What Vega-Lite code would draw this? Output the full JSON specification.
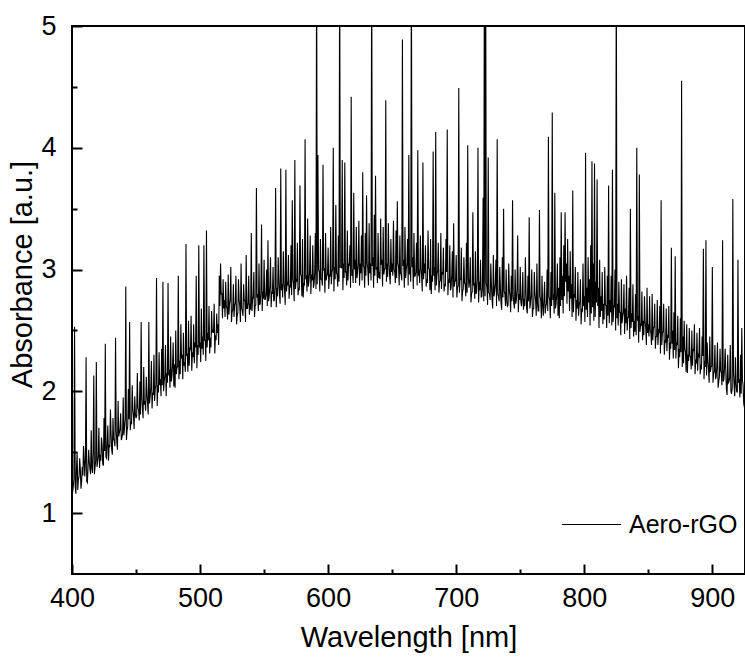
{
"$schema": "https://vega.github.io/schema/vega-lite/v6.json",
"width": 673, "height": 548,
"autosize": {"type": "none"},
"padding": {"left": 72, "top": 26, "right": 0, "bottom": 86},
"background": "white",
"config": {"view": {"stroke": "black", "strokeWidth": 2}, "font": "Liberation Sans"},
"data": {"values": [
{"w":400,"a":1.48},{"w":401,"a":1.22},{"w":402,"a":2.53},{"w":403,"a":1.16},{"w":404,"a":1.50},{"w":405,"a":1.28},{"w":406,"a":1.45},{"w":407,"a":1.20},{"w":408,"a":1.38},{"w":409,"a":1.55},
{"w":410,"a":1.30},{"w":411,"a":2.28},{"w":412,"a":1.25},{"w":413,"a":1.52},{"w":414,"a":1.36},{"w":415,"a":1.68},{"w":416,"a":1.33},{"w":417,"a":2.13},{"w":418,"a":1.38},{"w":419,"a":2.24},
{"w":420,"a":1.42},{"w":421,"a":1.70},{"w":422,"a":1.48},{"w":423,"a":1.62},{"w":424,"a":1.40},{"w":425,"a":1.78},{"w":426,"a":2.39},{"w":427,"a":1.45},{"w":428,"a":1.72},{"w":429,"a":1.55},
{"w":430,"a":1.85},{"w":431,"a":1.52},{"w":432,"a":1.78},{"w":433,"a":1.60},{"w":434,"a":2.44},{"w":435,"a":1.58},{"w":436,"a":1.92},{"w":437,"a":1.66},{"w":438,"a":1.82},{"w":439,"a":1.62},
{"w":440,"a":1.95},{"w":441,"a":1.70},{"w":442,"a":2.86},{"w":443,"a":1.68},{"w":444,"a":2.02},{"w":445,"a":2.57},{"w":446,"a":1.75},{"w":447,"a":2.05},{"w":448,"a":1.80},{"w":449,"a":1.96},
{"w":450,"a":1.78},{"w":451,"a":2.15},{"w":452,"a":1.85},{"w":453,"a":2.08},{"w":454,"a":2.57},{"w":455,"a":1.86},{"w":456,"a":2.20},{"w":457,"a":1.92},{"w":458,"a":2.12},{"w":459,"a":1.90},
{"w":460,"a":2.57},{"w":461,"a":1.95},{"w":462,"a":2.25},{"w":463,"a":1.98},{"w":464,"a":2.30},{"w":465,"a":2.02},{"w":466,"a":2.93},{"w":467,"a":2.05},{"w":468,"a":2.32},{"w":469,"a":2.10},
{"w":470,"a":2.35},{"w":471,"a":2.90},{"w":472,"a":2.08},{"w":473,"a":2.38},{"w":474,"a":2.15},{"w":475,"a":2.89},{"w":476,"a":2.18},{"w":477,"a":2.45},{"w":478,"a":2.12},{"w":479,"a":2.40},
{"w":480,"a":2.22},{"w":481,"a":2.50},{"w":482,"a":2.20},{"w":483,"a":2.95},{"w":484,"a":2.25},{"w":485,"a":2.55},{"w":486,"a":2.30},{"w":487,"a":2.48},{"w":488,"a":2.24},{"w":489,"a":3.21},
{"w":490,"a":2.30},{"w":491,"a":2.58},{"w":492,"a":2.35},{"w":493,"a":2.62},{"w":494,"a":2.32},{"w":495,"a":2.55},{"w":496,"a":2.40},{"w":497,"a":2.95},{"w":498,"a":2.38},{"w":499,"a":3.20},
{"w":500,"a":2.40},{"w":501,"a":2.68},{"w":502,"a":2.45},{"w":503,"a":3.20},{"w":504,"a":2.42},{"w":505,"a":3.32},{"w":506,"a":2.48},{"w":507,"a":2.70},{"w":508,"a":2.44},{"w":509,"a":2.66},
{"w":510,"a":2.50},{"w":511,"a":2.72},{"w":512,"a":2.46},{"w":513,"a":2.64},{"w":514,"a":2.55},{"w":515,"a":2.95},{"w":516,"a":3.05},{"w":517,"a":2.80},{"w":518,"a":2.92},{"w":519,"a":2.75},
{"w":520,"a":2.90},{"w":521,"a":2.68},{"w":522,"a":2.96},{"w":523,"a":2.72},{"w":524,"a":3.02},{"w":525,"a":2.65},{"w":526,"a":2.88},{"w":527,"a":2.70},{"w":528,"a":2.95},{"w":529,"a":2.62},
{"w":530,"a":2.92},{"w":531,"a":2.70},{"w":532,"a":3.05},{"w":533,"a":2.66},{"w":534,"a":2.88},{"w":535,"a":2.74},{"w":536,"a":3.12},{"w":537,"a":2.68},{"w":538,"a":2.95},{"w":539,"a":2.72},
{"w":540,"a":3.30},{"w":541,"a":2.75},{"w":542,"a":2.98},{"w":543,"a":2.70},{"w":544,"a":3.67},{"w":545,"a":2.80},{"w":546,"a":3.05},{"w":547,"a":2.72},{"w":548,"a":3.37},{"w":549,"a":2.82},
{"w":550,"a":3.08},{"w":551,"a":2.76},{"w":552,"a":3.00},{"w":553,"a":3.24},{"w":554,"a":2.78},{"w":555,"a":3.10},{"w":556,"a":2.82},{"w":557,"a":3.02},{"w":558,"a":2.75},{"w":559,"a":3.67},
{"w":560,"a":2.85},{"w":561,"a":3.10},{"w":562,"a":2.80},{"w":563,"a":3.83},{"w":564,"a":2.88},{"w":565,"a":3.15},{"w":566,"a":2.82},{"w":567,"a":3.82},{"w":568,"a":2.90},{"w":569,"a":3.12},
{"w":570,"a":2.86},{"w":571,"a":3.20},{"w":572,"a":3.57},{"w":573,"a":2.88},{"w":574,"a":3.90},{"w":575,"a":2.92},{"w":576,"a":3.22},{"w":577,"a":2.85},{"w":578,"a":3.69},{"w":579,"a":2.95},
{"w":580,"a":3.25},{"w":581,"a":2.88},{"w":582,"a":4.07},{"w":583,"a":2.95},{"w":584,"a":3.42},{"w":585,"a":2.90},{"w":586,"a":3.28},{"w":587,"a":2.96},{"w":588,"a":3.20},{"w":589,"a":2.88},
{"w":590,"a":3.30},{"w":591,"a":5.6},{"w":592,"a":3.94},{"w":593,"a":2.98},{"w":594,"a":3.25},{"w":595,"a":2.92},{"w":596,"a":3.86},{"w":597,"a":3.00},{"w":598,"a":3.30},{"w":599,"a":2.95},
{"w":600,"a":3.18},{"w":601,"a":2.95},{"w":602,"a":3.35},{"w":603,"a":2.98},{"w":604,"a":4.00},{"w":605,"a":3.02},{"w":606,"a":3.53},{"w":607,"a":2.96},{"w":608,"a":3.28},{"w":609,"a":5.6},
{"w":610,"a":3.02},{"w":611,"a":3.90},{"w":612,"a":3.05},{"w":613,"a":3.88},{"w":614,"a":2.98},{"w":615,"a":3.32},{"w":616,"a":3.05},{"w":617,"a":3.20},{"w":618,"a":4.42},{"w":619,"a":3.00},
{"w":620,"a":3.63},{"w":621,"a":3.08},{"w":622,"a":3.35},{"w":623,"a":2.98},{"w":624,"a":3.40},{"w":625,"a":3.05},{"w":626,"a":3.28},{"w":627,"a":3.80},{"w":628,"a":3.02},{"w":629,"a":3.30},
{"w":630,"a":3.61},{"w":631,"a":3.00},{"w":632,"a":3.38},{"w":633,"a":3.05},{"w":634,"a":5.6},{"w":635,"a":3.10},{"w":636,"a":3.45},{"w":637,"a":3.77},{"w":638,"a":3.02},{"w":639,"a":3.30},
{"w":640,"a":2.98},{"w":641,"a":3.42},{"w":642,"a":3.08},{"w":643,"a":3.35},{"w":644,"a":3.00},{"w":645,"a":4.39},{"w":646,"a":3.05},{"w":647,"a":3.38},{"w":648,"a":2.95},{"w":649,"a":3.25},
{"w":650,"a":3.05},{"w":651,"a":3.40},{"w":652,"a":2.98},{"w":653,"a":3.32},{"w":654,"a":3.56},{"w":655,"a":3.02},{"w":656,"a":3.28},{"w":657,"a":2.96},{"w":658,"a":4.89},{"w":659,"a":3.08},
{"w":660,"a":3.35},{"w":661,"a":3.00},{"w":662,"a":3.25},{"w":663,"a":3.94},{"w":664,"a":3.02},{"w":665,"a":5.6},{"w":666,"a":3.10},{"w":667,"a":3.30},{"w":668,"a":2.95},{"w":669,"a":3.22},
{"w":670,"a":3.98},{"w":671,"a":3.00},{"w":672,"a":3.28},{"w":673,"a":2.95},{"w":674,"a":3.88},{"w":675,"a":3.05},{"w":676,"a":3.20},{"w":677,"a":2.92},{"w":678,"a":3.32},{"w":679,"a":3.00},
{"w":680,"a":3.25},{"w":681,"a":2.95},{"w":682,"a":3.97},{"w":683,"a":3.02},{"w":684,"a":4.13},{"w":685,"a":2.96},{"w":686,"a":3.22},{"w":687,"a":2.90},{"w":688,"a":3.30},{"w":689,"a":2.98},
{"w":690,"a":3.18},{"w":691,"a":2.88},{"w":692,"a":3.25},{"w":693,"a":4.15},{"w":694,"a":2.92},{"w":695,"a":3.20},{"w":696,"a":2.85},{"w":697,"a":3.15},{"w":698,"a":3.38},{"w":699,"a":2.90},
{"w":700,"a":3.12},{"w":701,"a":2.85},{"w":702,"a":4.49},{"w":703,"a":2.92},{"w":704,"a":3.18},{"w":705,"a":2.82},{"w":706,"a":3.10},{"w":707,"a":2.88},{"w":708,"a":3.22},{"w":709,"a":4.02},
{"w":710,"a":2.85},{"w":711,"a":3.10},{"w":712,"a":2.80},{"w":713,"a":3.47},{"w":714,"a":2.88},{"w":715,"a":3.15},{"w":716,"a":2.82},{"w":717,"a":4.00},{"w":718,"a":2.90},{"w":719,"a":3.08},
{"w":720,"a":2.78},{"w":721,"a":3.59},{"w":722,"a":5.6},{"w":723,"a":5.6},{"w":724,"a":2.85},{"w":725,"a":3.92},{"w":726,"a":2.80},{"w":727,"a":3.05},{"w":728,"a":2.75},{"w":729,"a":3.12},
{"w":730,"a":2.82},{"w":731,"a":3.08},{"w":732,"a":4.07},{"w":733,"a":2.78},{"w":734,"a":3.02},{"w":735,"a":2.72},{"w":736,"a":3.10},{"w":737,"a":3.50},{"w":738,"a":2.80},{"w":739,"a":3.00},
{"w":740,"a":2.70},{"w":741,"a":3.05},{"w":742,"a":2.78},{"w":743,"a":2.95},{"w":744,"a":3.57},{"w":745,"a":2.72},{"w":746,"a":3.00},{"w":747,"a":2.75},{"w":748,"a":3.28},{"w":749,"a":2.80},
{"w":750,"a":3.02},{"w":751,"a":2.70},{"w":752,"a":2.98},{"w":753,"a":2.76},{"w":754,"a":3.10},{"w":755,"a":2.68},{"w":756,"a":2.95},{"w":757,"a":3.43},{"w":758,"a":2.72},{"w":759,"a":3.00},
{"w":760,"a":2.68},{"w":761,"a":2.98},{"w":762,"a":2.74},{"w":763,"a":3.05},{"w":764,"a":2.66},{"w":765,"a":3.49},{"w":766,"a":2.75},{"w":767,"a":2.95},{"w":768,"a":2.62},{"w":769,"a":2.90},
{"w":770,"a":2.70},{"w":771,"a":3.00},{"w":772,"a":4.09},{"w":773,"a":2.75},{"w":774,"a":2.98},{"w":775,"a":4.29},{"w":776,"a":2.80},{"w":777,"a":3.63},{"w":778,"a":2.72},{"w":779,"a":3.05},
{"w":780,"a":2.85},{"w":781,"a":3.10},{"w":782,"a":3.47},{"w":783,"a":2.95},{"w":784,"a":3.20},{"w":785,"a":3.47},{"w":786,"a":3.05},{"w":787,"a":3.25},{"w":788,"a":2.95},{"w":789,"a":3.15},
{"w":790,"a":2.88},{"w":791,"a":3.65},{"w":792,"a":2.80},{"w":793,"a":3.02},{"w":794,"a":2.75},{"w":795,"a":2.98},{"w":796,"a":2.70},{"w":797,"a":2.92},{"w":798,"a":2.68},{"w":799,"a":3.05},
{"w":800,"a":2.78},{"w":801,"a":3.96},{"w":802,"a":2.85},{"w":803,"a":3.10},{"w":804,"a":2.92},{"w":805,"a":3.20},{"w":806,"a":3.89},{"w":807,"a":3.05},{"w":808,"a":3.87},{"w":809,"a":2.90},
{"w":810,"a":3.74},{"w":811,"a":2.85},{"w":812,"a":3.08},{"w":813,"a":2.78},{"w":814,"a":2.98},{"w":815,"a":2.72},{"w":816,"a":3.02},{"w":817,"a":2.70},{"w":818,"a":2.95},{"w":819,"a":3.69},
{"w":820,"a":2.75},{"w":821,"a":2.95},{"w":822,"a":3.82},{"w":823,"a":2.70},{"w":824,"a":3.00},{"w":825,"a":5.6},{"w":826,"a":2.72},{"w":827,"a":2.90},{"w":828,"a":2.65},{"w":829,"a":2.92},
{"w":830,"a":2.62},{"w":831,"a":2.88},{"w":832,"a":2.68},{"w":833,"a":2.95},{"w":834,"a":2.60},{"w":835,"a":2.85},{"w":836,"a":3.50},{"w":837,"a":2.64},{"w":838,"a":2.88},{"w":839,"a":2.58},
{"w":840,"a":2.80},{"w":841,"a":4.00},{"w":842,"a":2.62},{"w":843,"a":3.78},{"w":844,"a":2.55},{"w":845,"a":2.82},{"w":846,"a":2.58},{"w":847,"a":2.78},{"w":848,"a":2.52},{"w":849,"a":2.85},
{"w":850,"a":2.55},{"w":851,"a":2.78},{"w":852,"a":2.48},{"w":853,"a":2.80},{"w":854,"a":2.52},{"w":855,"a":2.72},{"w":856,"a":2.45},{"w":857,"a":2.75},{"w":858,"a":2.50},{"w":859,"a":2.70},
{"w":860,"a":3.57},{"w":861,"a":2.48},{"w":862,"a":2.72},{"w":863,"a":2.42},{"w":864,"a":2.68},{"w":865,"a":2.45},{"w":866,"a":2.70},{"w":867,"a":2.40},{"w":868,"a":3.18},{"w":869,"a":2.50},
{"w":870,"a":2.65},{"w":871,"a":3.11},{"w":872,"a":2.40},{"w":873,"a":2.62},{"w":874,"a":2.35},{"w":875,"a":2.60},{"w":876,"a":4.55},{"w":877,"a":2.45},{"w":878,"a":2.58},{"w":879,"a":2.32},
{"w":880,"a":2.55},{"w":881,"a":2.30},{"w":882,"a":2.52},{"w":883,"a":2.28},{"w":884,"a":2.50},{"w":885,"a":2.35},{"w":886,"a":2.55},{"w":887,"a":2.25},{"w":888,"a":2.48},{"w":889,"a":2.30},
{"w":890,"a":2.52},{"w":891,"a":2.22},{"w":892,"a":2.45},{"w":893,"a":3.17},{"w":894,"a":2.25},{"w":895,"a":3.24},{"w":896,"a":2.40},{"w":897,"a":2.18},{"w":898,"a":2.45},{"w":899,"a":2.20},
{"w":900,"a":3.02},{"w":901,"a":2.15},{"w":902,"a":2.38},{"w":903,"a":2.12},{"w":904,"a":2.40},{"w":905,"a":2.08},{"w":906,"a":2.35},{"w":907,"a":2.15},{"w":908,"a":3.24},{"w":909,"a":2.10},
{"w":910,"a":2.35},{"w":911,"a":2.02},{"w":912,"a":2.30},{"w":913,"a":2.08},{"w":914,"a":2.38},{"w":915,"a":1.98},{"w":916,"a":3.58},{"w":917,"a":2.05},{"w":918,"a":2.28},{"w":919,"a":2.00},
{"w":920,"a":3.08},{"w":921,"a":2.10},{"w":922,"a":2.30},{"w":923,"a":2.52},{"w":924,"a":2.05},{"w":925,"a":1.87},
{"w":400.5,"a":1.17},{"w":401.5,"a":1.28},{"w":402.5,"a":1.23},{"w":403.5,"a":1.36},{"w":404.5,"a":1.19},{"w":405.5,"a":1.30},{"w":406.5,"a":1.36},{"w":407.5,"a":1.26},{"w":408.5,"a":1.31},{"w":409.5,"a":1.44},
{"w":410.5,"a":1.43},{"w":411.5,"a":1.26},{"w":412.5,"a":1.37},{"w":413.5,"a":1.42},{"w":414.5,"a":1.32},{"w":415.5,"a":1.37},{"w":416.5,"a":1.50},{"w":417.5,"a":1.32},{"w":418.5,"a":1.43},{"w":419.5,"a":1.38},
{"w":420.5,"a":1.47},{"w":421.5,"a":1.37},{"w":422.5,"a":1.43},{"w":423.5,"a":1.56},{"w":424.5,"a":1.39},{"w":425.5,"a":1.51},{"w":426.5,"a":1.46},{"w":427.5,"a":1.59},{"w":428.5,"a":1.43},{"w":429.5,"a":1.54},
{"w":430.5,"a":1.65},{"w":431.5,"a":1.48},{"w":432.5,"a":1.60},{"w":433.5,"a":1.55},{"w":434.5,"a":1.68},{"w":435.5,"a":1.52},{"w":436.5,"a":1.63},{"w":437.5,"a":1.69},{"w":438.5,"a":1.60},{"w":439.5,"a":1.65},
{"w":440.5,"a":1.64},{"w":441.5,"a":1.77},{"w":442.5,"a":1.60},{"w":443.5,"a":1.71},{"w":444.5,"a":1.77},{"w":445.5,"a":1.68},{"w":446.5,"a":1.73},{"w":447.5,"a":1.86},{"w":448.5,"a":1.69},{"w":449.5,"a":1.81},
{"w":450.5,"a":1.80},{"w":451.5,"a":1.86},{"w":452.5,"a":1.76},{"w":453.5,"a":1.81},{"w":454.5,"a":1.94},{"w":455.5,"a":1.78},{"w":456.5,"a":1.89},{"w":457.5,"a":1.84},{"w":458.5,"a":1.97},{"w":459.5,"a":1.81},
{"w":460.5,"a":1.90},{"w":461.5,"a":2.03},{"w":462.5,"a":1.86},{"w":463.5,"a":1.97},{"w":464.5,"a":1.92},{"w":465.5,"a":2.05},{"w":466.5,"a":1.88},{"w":467.5,"a":1.99},{"w":468.5,"a":2.05},{"w":469.5,"a":1.96},
{"w":470.5,"a":2.05},{"w":471.5,"a":2.00},{"w":472.5,"a":2.13},{"w":473.5,"a":1.96},{"w":474.5,"a":2.07},{"w":475.5,"a":2.13},{"w":476.5,"a":2.03},{"w":477.5,"a":2.08},{"w":478.5,"a":2.21},{"w":479.5,"a":2.04},
{"w":480.5,"a":2.03},{"w":481.5,"a":2.14},{"w":482.5,"a":2.20},{"w":483.5,"a":2.10},{"w":484.5,"a":2.14},{"w":485.5,"a":2.27},{"w":486.5,"a":2.10},{"w":487.5,"a":2.21},{"w":488.5,"a":2.16},{"w":489.5,"a":2.29},
{"w":490.5,"a":2.16},{"w":491.5,"a":2.21},{"w":492.5,"a":2.34},{"w":493.5,"a":2.17},{"w":494.5,"a":2.28},{"w":495.5,"a":2.23},{"w":496.5,"a":2.36},{"w":497.5,"a":2.19},{"w":498.5,"a":2.30},{"w":499.5,"a":2.36},
{"w":500.5,"a":2.24},{"w":501.5,"a":2.35},{"w":502.5,"a":2.30},{"w":503.5,"a":2.42},{"w":504.5,"a":2.25},{"w":505.5,"a":2.36},{"w":506.5,"a":2.42},{"w":507.5,"a":2.31},{"w":508.5,"a":2.36},{"w":509.5,"a":2.49},
{"w":510.5,"a":2.48},{"w":511.5,"a":2.31},{"w":512.5,"a":2.42},{"w":513.5,"a":2.48},{"w":514.5,"a":2.38},{"w":515.5,"a":2.70},{"w":516.5,"a":2.80},{"w":517.5,"a":2.60},{"w":518.5,"a":2.68},{"w":519.5,"a":2.61},
{"w":520.5,"a":2.70},{"w":521.5,"a":2.59},{"w":522.5,"a":2.63},{"w":523.5,"a":2.75},{"w":524.5,"a":2.57},{"w":525.5,"a":2.67},{"w":526.5,"a":2.61},{"w":527.5,"a":2.73},{"w":528.5,"a":2.55},{"w":529.5,"a":2.65},
{"w":530.5,"a":2.75},{"w":531.5,"a":2.57},{"w":532.5,"a":2.68},{"w":533.5,"a":2.62},{"w":534.5,"a":2.75},{"w":535.5,"a":2.57},{"w":536.5,"a":2.68},{"w":537.5,"a":2.73},{"w":538.5,"a":2.63},{"w":539.5,"a":2.67},
{"w":540.5,"a":2.66},{"w":541.5,"a":2.78},{"w":542.5,"a":2.61},{"w":543.5,"a":2.71},{"w":544.5,"a":2.77},{"w":545.5,"a":2.66},{"w":546.5,"a":2.71},{"w":547.5,"a":2.83},{"w":548.5,"a":2.66},{"w":549.5,"a":2.76},
{"w":550.5,"a":2.75},{"w":551.5,"a":2.80},{"w":552.5,"a":2.70},{"w":553.5,"a":2.74},{"w":554.5,"a":2.87},{"w":555.5,"a":2.69},{"w":556.5,"a":2.80},{"w":557.5,"a":2.74},{"w":558.5,"a":2.87},{"w":559.5,"a":2.69},
{"w":560.5,"a":2.78},{"w":561.5,"a":2.90},{"w":562.5,"a":2.72},{"w":563.5,"a":2.83},{"w":564.5,"a":2.77},{"w":565.5,"a":2.89},{"w":566.5,"a":2.71},{"w":567.5,"a":2.82},{"w":568.5,"a":2.87},{"w":569.5,"a":2.76},
{"w":570.5,"a":2.85},{"w":571.5,"a":2.79},{"w":572.5,"a":2.92},{"w":573.5,"a":2.74},{"w":574.5,"a":2.84},{"w":575.5,"a":2.90},{"w":576.5,"a":2.79},{"w":577.5,"a":2.83},{"w":578.5,"a":2.96},{"w":579.5,"a":2.78},
{"w":580.5,"a":2.77},{"w":581.5,"a":2.87},{"w":582.5,"a":2.92},{"w":583.5,"a":2.82},{"w":584.5,"a":2.86},{"w":585.5,"a":2.98},{"w":586.5,"a":2.80},{"w":587.5,"a":2.91},{"w":588.5,"a":2.85},{"w":589.5,"a":2.97},
{"w":590.5,"a":2.84},{"w":591.5,"a":2.88},{"w":592.5,"a":3.00},{"w":593.5,"a":2.82},{"w":594.5,"a":2.92},{"w":595.5,"a":2.87},{"w":596.5,"a":2.99},{"w":597.5,"a":2.81},{"w":598.5,"a":2.91},{"w":599.5,"a":2.96},
{"w":600.5,"a":2.84},{"w":601.5,"a":2.94},{"w":602.5,"a":2.88},{"w":603.5,"a":3.00},{"w":604.5,"a":2.82},{"w":605.5,"a":2.92},{"w":606.5,"a":2.97},{"w":607.5,"a":2.86},{"w":608.5,"a":2.90},{"w":609.5,"a":3.02},
{"w":610.5,"a":3.01},{"w":611.5,"a":2.83},{"w":612.5,"a":2.93},{"w":613.5,"a":2.98},{"w":614.5,"a":2.87},{"w":615.5,"a":2.91},{"w":616.5,"a":3.03},{"w":617.5,"a":2.85},{"w":618.5,"a":2.95},{"w":619.5,"a":2.89},
{"w":620.5,"a":3.00},{"w":621.5,"a":2.89},{"w":622.5,"a":2.93},{"w":623.5,"a":3.05},{"w":624.5,"a":2.87},{"w":625.5,"a":2.97},{"w":626.5,"a":2.91},{"w":627.5,"a":3.03},{"w":628.5,"a":2.85},{"w":629.5,"a":2.95},
{"w":630.5,"a":3.05},{"w":631.5,"a":2.87},{"w":632.5,"a":2.97},{"w":633.5,"a":2.91},{"w":634.5,"a":3.03},{"w":635.5,"a":2.85},{"w":636.5,"a":2.95},{"w":637.5,"a":3.00},{"w":638.5,"a":2.89},{"w":639.5,"a":2.93},
{"w":640.5,"a":2.92},{"w":641.5,"a":3.04},{"w":642.5,"a":2.86},{"w":643.5,"a":2.96},{"w":644.5,"a":3.01},{"w":645.5,"a":2.90},{"w":646.5,"a":2.94},{"w":647.5,"a":3.06},{"w":648.5,"a":2.88},{"w":649.5,"a":2.98},
{"w":650.5,"a":2.95},{"w":651.5,"a":3.00},{"w":652.5,"a":2.89},{"w":653.5,"a":2.93},{"w":654.5,"a":3.05},{"w":655.5,"a":2.87},{"w":656.5,"a":2.97},{"w":657.5,"a":2.91},{"w":658.5,"a":3.03},{"w":659.5,"a":2.85},
{"w":660.5,"a":2.93},{"w":661.5,"a":3.05},{"w":662.5,"a":2.87},{"w":663.5,"a":2.96},{"w":664.5,"a":2.90},{"w":665.5,"a":3.02},{"w":666.5,"a":2.84},{"w":667.5,"a":2.94},{"w":668.5,"a":2.98},{"w":669.5,"a":2.87},
{"w":670.5,"a":2.95},{"w":671.5,"a":2.89},{"w":672.5,"a":3.01},{"w":673.5,"a":2.82},{"w":674.5,"a":2.92},{"w":675.5,"a":2.97},{"w":676.5,"a":2.86},{"w":677.5,"a":2.89},{"w":678.5,"a":3.01},{"w":679.5,"a":2.83},
{"w":680.5,"a":2.80},{"w":681.5,"a":2.90},{"w":682.5,"a":2.95},{"w":683.5,"a":2.83},{"w":684.5,"a":2.87},{"w":685.5,"a":2.99},{"w":686.5,"a":2.81},{"w":687.5,"a":2.91},{"w":688.5,"a":2.84},{"w":689.5,"a":2.96},
{"w":690.5,"a":2.82},{"w":691.5,"a":2.86},{"w":692.5,"a":2.98},{"w":693.5,"a":2.79},{"w":694.5,"a":2.89},{"w":695.5,"a":2.83},{"w":696.5,"a":2.95},{"w":697.5,"a":2.77},{"w":698.5,"a":2.86},{"w":699.5,"a":2.91},
{"w":700.5,"a":2.77},{"w":701.5,"a":2.87},{"w":702.5,"a":2.81},{"w":703.5,"a":2.92},{"w":704.5,"a":2.74},{"w":705.5,"a":2.84},{"w":706.5,"a":2.89},{"w":707.5,"a":2.78},{"w":708.5,"a":2.81},{"w":709.5,"a":2.93},
{"w":710.5,"a":2.91},{"w":711.5,"a":2.73},{"w":712.5,"a":2.82},{"w":713.5,"a":2.87},{"w":714.5,"a":2.76},{"w":715.5,"a":2.80},{"w":716.5,"a":2.92},{"w":717.5,"a":2.73},{"w":718.5,"a":2.83},{"w":719.5,"a":2.77},
{"w":720.5,"a":2.85},{"w":721.5,"a":2.74},{"w":722.5,"a":2.78},{"w":723.5,"a":2.89},{"w":724.5,"a":2.71},{"w":725.5,"a":2.81},{"w":726.5,"a":2.75},{"w":727.5,"a":2.87},{"w":728.5,"a":2.68},{"w":729.5,"a":2.78},
{"w":730.5,"a":2.88},{"w":731.5,"a":2.70},{"w":732.5,"a":2.80},{"w":733.5,"a":2.74},{"w":734.5,"a":2.85},{"w":735.5,"a":2.67},{"w":736.5,"a":2.77},{"w":737.5,"a":2.82},{"w":738.5,"a":2.70},{"w":739.5,"a":2.74},
{"w":740.5,"a":2.71},{"w":741.5,"a":2.83},{"w":742.5,"a":2.65},{"w":743.5,"a":2.74},{"w":744.5,"a":2.79},{"w":745.5,"a":2.68},{"w":746.5,"a":2.72},{"w":747.5,"a":2.84},{"w":748.5,"a":2.65},{"w":749.5,"a":2.75},
{"w":750.5,"a":2.73},{"w":751.5,"a":2.78},{"w":752.5,"a":2.67},{"w":753.5,"a":2.70},{"w":754.5,"a":2.82},{"w":755.5,"a":2.64},{"w":756.5,"a":2.74},{"w":757.5,"a":2.68},{"w":758.5,"a":2.79},{"w":759.5,"a":2.61},
{"w":760.5,"a":2.68},{"w":761.5,"a":2.80},{"w":762.5,"a":2.62},{"w":763.5,"a":2.72},{"w":764.5,"a":2.66},{"w":765.5,"a":2.78},{"w":766.5,"a":2.60},{"w":767.5,"a":2.70},{"w":768.5,"a":2.75},{"w":769.5,"a":2.64},
{"w":770.5,"a":2.72},{"w":771.5,"a":2.66},{"w":772.5,"a":2.78},{"w":773.5,"a":2.60},{"w":774.5,"a":2.70},{"w":775.5,"a":2.75},{"w":776.5,"a":2.64},{"w":777.5,"a":2.68},{"w":778.5,"a":2.80},{"w":779.5,"a":2.62},
{"w":780.5,"a":2.60},{"w":781.5,"a":2.70},{"w":782.5,"a":2.75},{"w":783.5,"a":2.64},{"w":784.5,"a":2.78},{"w":785.5,"a":2.90},{"w":786.5,"a":2.72},{"w":787.5,"a":2.82},{"w":788.5,"a":2.66},{"w":789.5,"a":2.76},
{"w":790.5,"a":2.61},{"w":791.5,"a":2.65},{"w":792.5,"a":2.77},{"w":793.5,"a":2.58},{"w":794.5,"a":2.68},{"w":795.5,"a":2.62},{"w":796.5,"a":2.74},{"w":797.5,"a":2.55},{"w":798.5,"a":2.65},{"w":799.5,"a":2.70},
{"w":800.5,"a":2.57},{"w":801.5,"a":2.67},{"w":802.5,"a":2.61},{"w":803.5,"a":2.73},{"w":804.5,"a":2.54},{"w":805.5,"a":2.64},{"w":806.5,"a":2.69},{"w":807.5,"a":2.58},{"w":808.5,"a":2.61},{"w":809.5,"a":2.73},
{"w":810.5,"a":2.70},{"w":811.5,"a":2.52},{"w":812.5,"a":2.61},{"w":813.5,"a":2.66},{"w":814.5,"a":2.55},{"w":815.5,"a":2.59},{"w":816.5,"a":2.71},{"w":817.5,"a":2.52},{"w":818.5,"a":2.62},{"w":819.5,"a":2.56},
{"w":820.5,"a":2.65},{"w":821.5,"a":2.54},{"w":822.5,"a":2.57},{"w":823.5,"a":2.69},{"w":824.5,"a":2.50},{"w":825.5,"a":2.60},{"w":826.5,"a":2.54},{"w":827.5,"a":2.65},{"w":828.5,"a":2.46},{"w":829.5,"a":2.56},
{"w":830.5,"a":2.65},{"w":831.5,"a":2.47},{"w":832.5,"a":2.56},{"w":833.5,"a":2.50},{"w":834.5,"a":2.61},{"w":835.5,"a":2.43},{"w":836.5,"a":2.52},{"w":837.5,"a":2.57},{"w":838.5,"a":2.45},{"w":839.5,"a":2.49},
{"w":840.5,"a":2.46},{"w":841.5,"a":2.58},{"w":842.5,"a":2.40},{"w":843.5,"a":2.49},{"w":844.5,"a":2.54},{"w":845.5,"a":2.42},{"w":846.5,"a":2.46},{"w":847.5,"a":2.57},{"w":848.5,"a":2.38},{"w":849.5,"a":2.48},
{"w":850.5,"a":2.45},{"w":851.5,"a":2.50},{"w":852.5,"a":2.38},{"w":853.5,"a":2.42},{"w":854.5,"a":2.53},{"w":855.5,"a":2.35},{"w":856.5,"a":2.45},{"w":857.5,"a":2.38},{"w":858.5,"a":2.49},{"w":859.5,"a":2.31},
{"w":860.5,"a":2.38},{"w":861.5,"a":2.49},{"w":862.5,"a":2.30},{"w":863.5,"a":2.40},{"w":864.5,"a":2.33},{"w":865.5,"a":2.44},{"w":866.5,"a":2.26},{"w":867.5,"a":2.35},{"w":868.5,"a":2.39},{"w":869.5,"a":2.27},
{"w":870.5,"a":2.34},{"w":871.5,"a":2.27},{"w":872.5,"a":2.38},{"w":873.5,"a":2.19},{"w":874.5,"a":2.28},{"w":875.5,"a":2.32},{"w":876.5,"a":2.20},{"w":877.5,"a":2.23},{"w":878.5,"a":2.35},{"w":879.5,"a":2.16},
{"w":880.5,"a":2.15},{"w":881.5,"a":2.25},{"w":882.5,"a":2.29},{"w":883.5,"a":2.18},{"w":884.5,"a":2.21},{"w":885.5,"a":2.33},{"w":886.5,"a":2.14},{"w":887.5,"a":2.24},{"w":888.5,"a":2.17},{"w":889.5,"a":2.29},
{"w":890.5,"a":2.14},{"w":891.5,"a":2.18},{"w":892.5,"a":2.29},{"w":893.5,"a":2.10},{"w":894.5,"a":2.20},{"w":895.5,"a":2.13},{"w":896.5,"a":2.25},{"w":897.5,"a":2.07},{"w":898.5,"a":2.16},{"w":899.5,"a":2.21},
{"w":900.5,"a":2.07},{"w":901.5,"a":2.16},{"w":902.5,"a":2.10},{"w":903.5,"a":2.21},{"w":904.5,"a":2.03},{"w":905.5,"a":2.12},{"w":906.5,"a":2.17},{"w":907.5,"a":2.05},{"w":908.5,"a":2.08},{"w":909.5,"a":2.19},
{"w":910.5,"a":2.16},{"w":911.5,"a":1.97},{"w":912.5,"a":2.07},{"w":913.5,"a":2.11},{"w":914.5,"a":2.00},{"w":915.5,"a":2.03},{"w":916.5,"a":2.15},{"w":917.5,"a":1.96},{"w":918.5,"a":2.06},{"w":919.5,"a":1.99},
{"w":920.5,"a":2.07},{"w":921.5,"a":1.95},{"w":922.5,"a":1.98},{"w":923.5,"a":2.09},{"w":924.5,"a":1.90}
]},
"layer": [
{
"mark": {"type": "line", "strokeWidth": 1.1, "clip": true},
"encoding": {
"x": {"field": "w", "type": "quantitative",
"scale": {"domain": [400, 925.5], "nice": false, "zero": false},
"axis": {"orient": "bottom", "values": [400, 500, 600, 700, 800, 900], "domain": false, "grid": false,
"tickSize": -10, "tickWidth": 2, "tickColor": "black",
"labelPadding": 21, "labelFontSize": 27, "labelColor": "black", "labelFont": "Liberation Sans", "labelFlush": false, "labelOverlap": false,
"title": "Wavelength [nm]", "titleFontSize": 29, "titleFontWeight": "normal", "titleColor": "black", "titleFont": "Liberation Sans", "titlePadding": 12}},
"y": {"field": "a", "type": "quantitative",
"scale": {"domain": [0.5, 5], "nice": false, "zero": false},
"axis": {"orient": "left", "values": [1, 2, 3, 4, 5], "domain": false, "grid": false,
"tickSize": -10, "tickWidth": 2, "tickColor": "black",
"labelPadding": 26, "labelFontSize": 27, "labelColor": "black", "labelFont": "Liberation Sans", "labelFlush": false, "labelOverlap": false,
"title": "Absorbance [a.u.]", "titleFontSize": 29, "titleFontWeight": "normal", "titleColor": "black", "titleFont": "Liberation Sans", "titlePadding": 3, "titleY": 248}},
"color": {"datum": "Aero-rGO", "type": "nominal", "scale": {"range": ["black"]},
"legend": {"orient": "none", "legendX": 489, "legendY": 468, "title": null, "padding": 0,
"symbolType": "stroke", "symbolSize": 3500, "symbolStrokeWidth": 1.2, "symbolStrokeColor": "black",
"labelFontSize": 25, "labelFont": "Liberation Sans", "labelColor": "black", "labelOffset": 7}}
}
},
{
"mark": {"type": "line", "opacity": 0},
"encoding": {
"x": {"field": "w", "type": "quantitative",
"axis": {"orient": "bottom", "values": [450, 550, 650, 750, 850], "labels": false, "domain": false, "grid": false,
"tickSize": -5, "tickWidth": 2, "tickColor": "black", "title": null}},
"y": {"field": "a", "type": "quantitative",
"axis": {"orient": "left", "values": [1.5, 2.5, 3.5, 4.5], "labels": false, "domain": false, "grid": false,
"tickSize": -5, "tickWidth": 2, "tickColor": "black", "title": null}}
}
}
],
"resolve": {"axis": {"x": "independent", "y": "independent"}}
}
